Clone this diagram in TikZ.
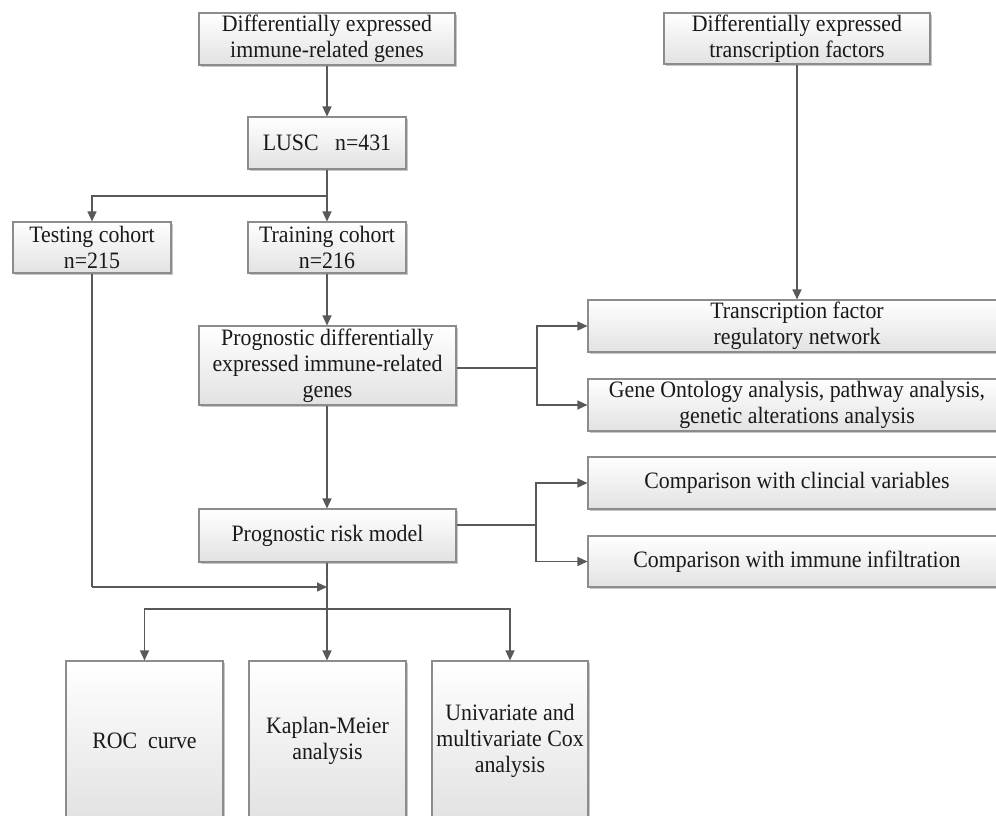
\documentclass[tikz,border=0pt]{standalone}
\usepackage{fontspec}
\setmainfont{Liberation Serif}[FakeStretch=0.93]
\usetikzlibrary{arrows.meta,shadows}
\definecolor{linec}{RGB}{89,89,89}
\definecolor{boxc}{RGB}{140,140,140}
\definecolor{boxbot}{RGB}{226,226,226}
\tikzset{
  fbox/.style={draw=boxc, line width=1.1pt, top color=white, bottom color=boxbot,
    inner sep=0pt, align=center, text=black!90, font=\fontsize{23.5}{26}\selectfont,
    drop shadow={shadow xshift=1.5pt, shadow yshift=-1.5pt, fill=black, opacity=0.22}},
  conn/.style={draw=linec, line width=1.3pt},
  arr/.style={conn, -{Triangle[length=10pt,width=9pt]}},
}
\begin{document}
\begin{tikzpicture}[x=1pt,y=-1pt]
\useasboundingbox (0,0) rectangle (996,815);
\clip (0,0) rectangle (996,815);
\fill[white] (0,0) rectangle (996,815);
% boxes
\node[fbox, minimum width=256, minimum height=52] (degs) at (327,39) {Differentially expressed\\immune-related genes};
\node[fbox, minimum width=266, minimum height=51] (detf) at (797,38.5) {Differentially expressed\\transcription factors};
\node[fbox, minimum width=158, minimum height=52] (lusc) at (327,143) {LUSC\ \ \ n=431};
\node[fbox, minimum width=158, minimum height=51] (test) at (92,247.5) {Testing cohort\\n=215};
\node[fbox, minimum width=158, minimum height=51] (train) at (327,247.5) {Training cohort\\n=216};
\node[fbox, minimum width=257, minimum height=79] (prog) at (327.5,365.5) {Prognostic differentially\\expressed immune-related\\genes};
\node[fbox, minimum width=418, minimum height=52] (tfnet) at (797,326) {Transcription factor\\regulatory network};
\node[fbox, minimum width=418, minimum height=52] (go) at (797,405) {Gene Ontology analysis, pathway analysis,\\genetic alterations analysis};
\node[fbox, minimum width=418, minimum height=52] (clin) at (797,483) {Comparison with clincial variables};
\node[fbox, minimum width=418, minimum height=51] (immu) at (797,561.5) {Comparison with immune infiltration};
\node[fbox, minimum width=257, minimum height=53] (risk) at (327.5,535.5) {Prognostic risk model};
\node[fbox, minimum width=157, minimum height=159] (roc) at (144.5,740.5) {ROC\ \ curve};
\node[fbox, minimum width=157, minimum height=159] (km) at (327.5,740.5) {Kaplan-Meier\\analysis};
\node[fbox, minimum width=156, minimum height=159] (cox) at (510,740.5) {Univariate and\\multivariate Cox\\analysis};
% junctions
\coordinate (j0) at (327,196);
\coordinate (j1) at (537,368);
\coordinate (j2) at (536,525);
\coordinate (j3) at (92,587);
\coordinate (j4) at (327,587);
\coordinate (j5) at (327,609);
% connectors
\draw[arr] (degs.south -| lusc.north) -- (lusc.north);
\draw[conn] (lusc.south) -- (j0);
\draw[arr] (j0) -| (test.north);
\draw[arr] (j0) -- (train.north);
\draw[arr] (train.south) -- (prog.north -| train.south);
\draw[arr] (detf.south) -- (tfnet.north);
\draw[conn] (prog.east |- j1) -- (j1);
\draw[arr] (j1) |- (tfnet.west);
\draw[arr] (j1) |- (go.west);
\draw[arr] (prog.south -| lusc.south) -- (risk.north -| lusc.south);
\draw[conn] (risk.east |- j2) -- (j2);
\draw[arr] (j2) |- (clin.west);
\draw[arr] (j2) |- (immu.west);
\draw[conn] (test.south) -- (j3);
\draw[arr] (j3) -- (j4);
\draw[arr] (risk.south -| lusc.south) -- (km.north -| lusc.south);
\draw[arr] (j5) -| (roc.north);
\draw[arr] (j5) -| (cox.north);
\end{tikzpicture}
\end{document}
